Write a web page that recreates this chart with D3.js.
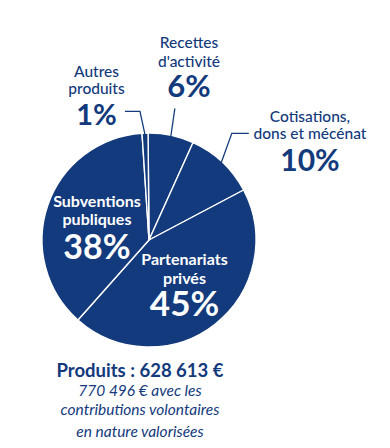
<!DOCTYPE html>
<html>
<head>
<meta charset="utf-8">
<script src="https://cdn.jsdelivr.net/npm/d3@7"></script>
<style>
  html, body { margin: 0; padding: 0; background: #fff; }
  svg { display: block; font-family: Lato, "Open Sans", sans-serif; }
</style>
</head>
<body>
<div id="chart"></div>
<script>
// categories, clockwise from 12 o'clock
const categories = ["Recettes d'activité", "Cotisations, dons et mécénat", "Partenariats privés", "Subventions publiques", "Autres produits"];
// share of the circle as drawn in the picture (%)
const shares = [6.9, 10.5, 44.3, 37.4, 0.9];
// printed percentages
const pctLabels = ["6%", "10%", "45%", "38%", "1%"];
// label lines for each category
const labelLines = [["Recettes", "d'activité"], ["Cotisations,", "dons et mécénat"], ["Partenariats", "privés"], ["Subventions", "publiques"], ["Autres", "produits"]];
const totalTitle = "Produits : 628 613 €";
const noteLines = ["770 496 € avec les", "contributions volontaires", "en nature valorisées"];

const width = 390, height = 448;
const navy = "#133a7c";
const cx = 149, cy = 240, r = 107;
const deg = Math.PI / 180;

const svg = d3.select("#chart").append("svg")
  .attr("width", width)
  .attr("height", height);

const g = svg.append("g").attr("transform", `translate(${cx},${cy})`);

const start = -0.5 * deg;
const pie = d3.pie().sort(null).value(d => d).startAngle(start).endAngle(start + 2 * Math.PI);
const arcs = pie(shares);
const arc = d3.arc().innerRadius(0).outerRadius(r);

// slices
g.selectAll("path.slice")
  .data(arcs)
  .join("path")
  .attr("class", "slice")
  .attr("d", arc)
  .attr("fill", navy)
  .attr("stroke", "#fff")
  .attr("stroke-width", 1.4)
  .attr("stroke-linejoin", "round");

// leader lines for the small slices (index, elbow radius, elbow angle offset, tail length)
const leaders = [
  { i: 0, er: 134, da: -0.8, tail: 0 },
  { i: 1, er: 135, da: -5.4, tail: 17 },
  { i: 4, er: 129, da: -1.9, tail: -15 }
];
const polar = (a, rad) => [Math.sin(a) * rad, -Math.cos(a) * rad];
leaders.forEach(l => {
  const a = arcs[l.i];
  const mid = (a.startAngle + a.endAngle) / 2;
  const p0 = polar(mid, r - 2);
  const p1 = polar(mid + l.da * deg, l.er);
  const pts = [p0, p1];
  if (l.tail) pts.push([p1[0] + l.tail, p1[1]]);
  g.append("path")
    .attr("d", d3.line()(pts))
    .attr("fill", "none")
    .attr("stroke", navy)
    .attr("stroke-width", 1.3);
});

// label layout: centre x, first baseline, line gap, pct baseline, sizes, colour
const labelPos = [
  { x: 189, y: 48, gap: 18.5, py: 97, fs: 15.5, ps: 31, col: navy, w: 500 },
  { x: 310, y: 121.5, gap: 17.5, py: 171, fs: 15.5, ps: 30, col: navy, w: 500 },
  { x: 184.5, y: 265, gap: 19, py: 316, fs: 16, ps: 35, col: "#fff", w: 700 },
  { x: 97, y: 206.5, gap: 18, py: 258.5, fs: 16, ps: 34, col: "#fff", w: 700 },
  { x: 96.5, y: 76.5, gap: 17.5, py: 125, fs: 15.5, ps: 29, col: navy, w: 500 }
];

categories.forEach((c, i) => {
  const p = labelPos[i];
  const t = svg.append("g").attr("fill", p.col).attr("text-anchor", "middle");
  labelLines[i].forEach((line, j) => {
    t.append("text")
      .attr("x", p.x)
      .attr("y", p.y + j * p.gap)
      .attr("font-size", p.fs)
      .attr("font-weight", p.w)
      .text(line);
  });
  t.append("text")
    .attr("x", p.x)
    .attr("y", p.py)
    .attr("font-size", p.ps)
    .attr("font-weight", 700)
    .text(pctLabels[i]);
});

// totals below the pie
svg.append("text")
  .attr("x", 140)
  .attr("y", 376.5)
  .attr("text-anchor", "middle")
  .attr("font-size", 18.5)
  .attr("font-weight", 700)
  .attr("fill", navy)
  .text(totalTitle);

svg.selectAll("text.note")
  .data(noteLines)
  .join("text")
  .attr("class", "note")
  .attr("x", 140)
  .attr("y", (d, i) => [396, 415, 436.5][i])
  .attr("text-anchor", "middle")
  .attr("font-size", 15.5)
  .attr("font-style", "italic")
  .attr("font-weight", 400)
  .attr("fill", navy)
  .text(d => d);
</script>
</body>
</html>
